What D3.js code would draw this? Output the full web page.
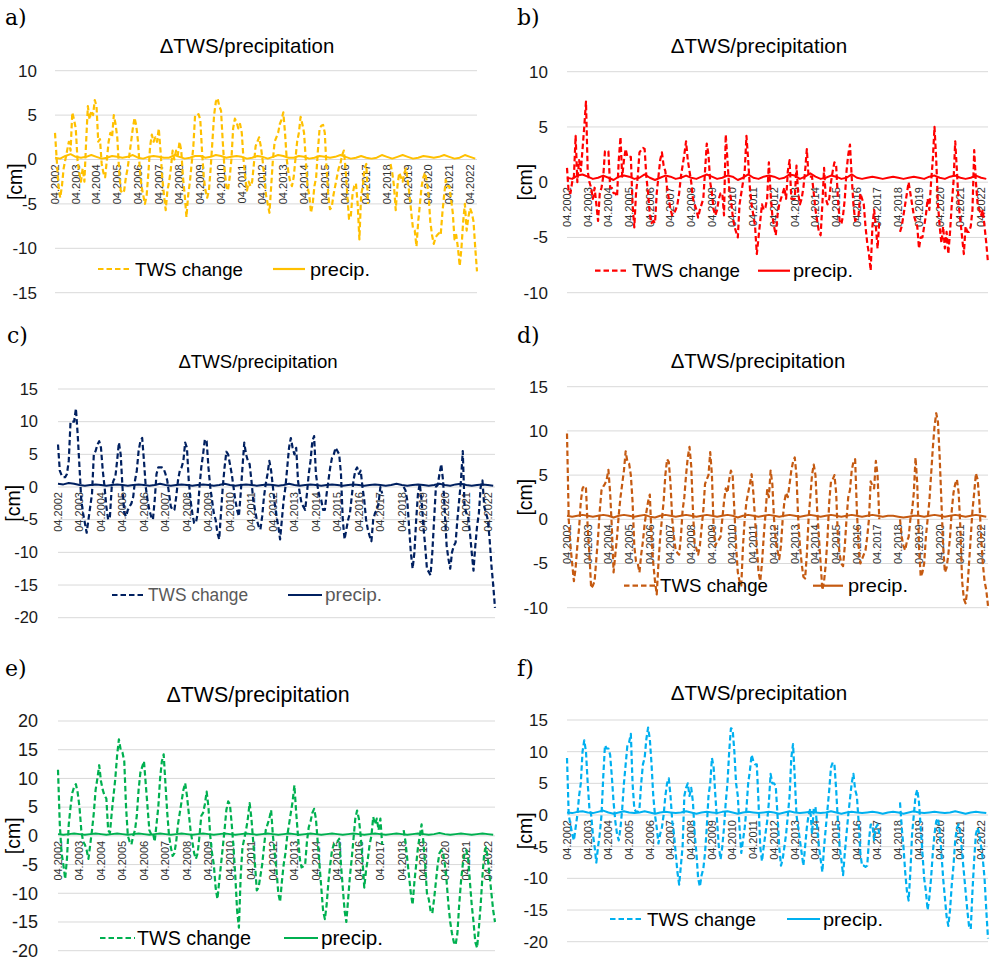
<!DOCTYPE html>
<html><head><meta charset="utf-8">
<script src="https://cdn.jsdelivr.net/npm/d3@7"></script>
<style>html,body{margin:0;padding:0;background:#fff;} svg{display:block;}</style>
</head><body>
<svg id="chart" width="990" height="961"></svg>
<script>
// x-axis tick labels (every 12 months, starting 04.2002)
const yearLabels = ["04.2002","04.2003","04.2004","04.2005","04.2006","04.2007","04.2008","04.2009","04.2010","04.2011","04.2012","04.2013","04.2014","04.2015","04.2016","04.2017","04.2018","04.2019","04.2020","04.2021","04.2022"];
const seriesNames = ["TWS change", "precip."];

// Monthly TWS change [cm], 04.2002 .. 08.2022 (rows = April..March); null = no data
const twsA = [
 3,0,-3,-4.3,-3,-1,0,1,2,1,5.3,4.5,
 3.5,0,-1.5,-2.5,-1,-2.5,2,6,4.5,5.5,5,6.7,
 6,2,2.3,-0.5,-1.5,-2,0,2,3,2.5,5,4,
 2.5,-1,-3.5,-3.8,-3.5,-2,-1,0.5,2,3.5,4.7,3.8,
 2,-1,-3,-4,-5,-4,-1.5,1.5,2.8,2,2.5,2,
 3.5,1,-2,-4,-5.7,-3.5,-2.5,-1,1,0,1,0.5,
 2,1,-2,-4,-6.5,-4,-2.5,-0.5,1.5,5,5,5.1,
 4.5,1,-2,-3.5,-4.3,-3.5,-1,2,5,6.5,6.9,6,
 5.5,2,-1,-3,-3.5,-2,0,3.5,4.6,4.2,3.5,4,
 3,0,-2,-3.5,-2.5,-3,-2.5,-0.5,1.5,2,2.5,1.5,
 0,-2,-4,-5,-6,-3,0,2,2.5,3,4,4.5,
 5.3,3,0,-1.5,-2.5,-3,-2,0,2,3,4.8,4,
 3,0,-3,-4,-6,-5,-3,-2,1,3.5,3.8,3.9,
 3,-1,-4,-5.6,-5.4,-4,-3,-2,-1,-0.5,0.5,1,
 -1,-4,-6.7,-6.5,-4,-3,-2.7,-5,-9,-4,-3,-1,
 -0.5,-5,null,null,null,null,null,null,null,null,null,null,
 null,null,-0.5,-1.5,-3,-5.7,-3,-1.5,-2,-2.5,-1.5,-1,
 -2.5,-4,-6,-7.8,-8,-9.8,-7,-5,-3,-2,-1.5,-2.5,
 -4,-7,-8.5,-9.5,-8.8,-8.5,-8.3,-8.5,-6,-4,-2.3,-3,
 -3,-4.5,-6,-9,-8.5,-10,-12,-10,-7,-5,-8,-6.5,
 -5.5,-6,-7,-10,-12.6
];
const twsB = [
 1.3,-1,-1,0,0.5,4.2,0,2,1,3,5,7.3,
 1,0,-0.5,-1.5,-0.5,-2,-3.5,-1,-0.5,0.5,2.8,2.8,
 2.8,-0.5,-0.5,-1,-1,-1.3,2,4.1,0.5,2,3,2.3,
 2.3,2.3,-2,-4.1,-1,0.5,2.7,2.9,3.1,3,0.5,-1,
 -3,-3.7,-3.5,-3.7,-1,0.5,2,2.7,1.5,1,-0.5,-1.5,
 -2.5,-3,-2.8,-2.5,-2,-1,0.5,1.5,2.5,3.7,2,1,
 0,-1.5,-2,-2.5,-3.2,-2.5,-2,-1.5,1,3.5,2.5,0,
 -1,-2.5,-3,-2.5,-1.5,-1,-1,-3,4.3,2,-0.5,-1.5,
 -3,-4,-4.5,-5,-2,-1,0,1,4.2,2,-0.5,-2,
 -3,-4,-6.5,-5,-3.5,-2,-2.5,-2.3,-1.5,1.8,-1,-3,
 -4,-4.8,-3,-2,-1.5,-1,-0.5,-1.5,1,2,-1.5,-1.5,
 -1.5,1.5,-1,-2,-1.5,-0.5,1,3,0.5,0.5,0.5,-1,
 -2.5,-3.5,-4.5,-4.8,-2,1.3,-1.5,-2,-1.5,0,1,1.8,
 1.5,-1.5,-3.5,-3.8,-3,-1.5,1,2.5,3.4,0.5,-2,-3.5,
 -3.2,-3,-1,-1.5,-2,-4,-5.5,-6.5,-8,-4,-2.5,-4,
 -6,-3.5,null,null,null,null,null,null,null,null,null,null,
 null,-4.5,-4,-3,-2,-1,0,-1,-2,-3,-3.5,-4,
 -6,-5,-5,-4,-3,-1.5,-2.5,0,2,5,2,-2,
 -4,-5.5,-4,-6,-4.5,-6.5,-4.5,-2,0,3.7,1,-2,
 -3.5,-5,-6.5,-4,-4.5,-4.5,-4,-2.5,2.9,0,-2,-2.5,
 -3,-2.5,-4,-5.5,-7.3
];
const twsC = [
 6.5,2.5,1.8,1.5,1.5,2,4,10,10,10,12,8,
 3,-2,-4,-5.5,-7,-5,-3,-1,5,5.5,6.5,7,
 6,2.5,0,-3,-5,-4.5,0,1,1.5,4,6.8,5,
 0,-4,-4.5,-3.5,-3,-2.5,-1.5,1,2.5,5.5,7,7.5,
 4,0,-2,-3.5,-4.5,-5,-2,2,3,3,3,2.8,
 2,1,-1,-3,-3.5,-3.5,-1.5,1,2.5,3,4,6.8,
 6,1,-2,-4,-5.5,-5.5,-4,0,3,5,7.3,7,
 3,0,-2,-4,-5,-7,-8,-4,0,3,5.4,5,
 3.5,2,0,-2,-3.5,-4.5,-1,3,6.8,5,4,3.5,
 1,-2,-3.5,-5,-6,-6.5,-4.5,-1.5,0.5,2,4,2.5,
 0,-2.5,-4.5,-6,-8,-5,-2,0,3,6,7.5,6,
 5,6,1,-1,-2.5,-3,-3.5,-1,2,4,7,7.8,
 2,0,-1.5,-2,-3.5,-3.5,-1,1,3,4.5,5,6,
 5.5,5,2,-5,-8,-6.5,-5,-4,-1.5,1,2.5,3,
 2,2.5,0,-2,-5,-6.5,-7.5,-8.3,-5,-4,-3.5,-2.5,
 0,-1,null,null,null,null,null,null,null,null,null,null,
 null,0,-0.5,-2,-6,-10,-12.5,-10,-5,-1,0.5,-2,
 -6,-9,-12.5,-13,-13.5,-10,-5,0,0.3,2,3.5,1,
 -4,-9,-11,-12.5,-10,-9,-8.5,-5,-2,1,5.5,-3,
 -4,-4.5,-7,-10,-12.8,-9,-6,-4,0,1,-3,-4,
 -5,-8,-12,-15,-18.5
];
const twsD = [
 9.7,0,-3,-5,-7,-5.5,-3,-1,2,3.5,3.8,3.5,
 -1,-4,-7.8,-7.5,-7,-4.5,-2,1,3.3,3.7,4,4.5,
 5.6,3,-1,-6,-4,-2,0.5,2.5,4,5.5,7.7,6.5,
 6.3,5,2,-3,-4.8,-5,-6,-4,-2.5,-0.5,0.8,2,
 2.8,-2,-5,-7,-8.5,-5,-2,0,2,5,6.8,6.5,
 4,0,-2,-3.5,-3.8,-4,-2,1,2.5,5,7,8.2,
 6,1,-3,-3.3,-4,-3,-1,1,4,4.5,5,7.6,
 5,-1,-3,-2.5,-2.3,-2,0,2,3.5,3,4.5,5.5,
 5,1,-3,-6,-7,-7.5,-3,0,2,3,4,5.1,
 3,0,-3,-6,-7,-5,-2,0.5,3.3,2.5,5.5,4,
 0,-2.5,-3.5,-4.5,-3,0,2,3,2.5,4,5.5,6.5,
 7,5,0,-3,-5,-6.5,-6.7,-4,0,2.5,5,6.2,
 5,1,-2,-5,-8,-7,-5,-2,2,4.3,4.5,5,
 3,-2,-4,-5,-5.3,-3,0,2.5,3.3,5.5,6.5,6.8,
 1,-3,-5,-4.5,-4,-3.5,-2,0,4.3,3.8,3.5,6.6,
 5,0,null,null,null,null,null,null,null,null,null,null,
 null,0,-2,-3,-3.5,-2.5,-2,0,1,3,7,4,
 -3,-6.5,-6,-5,-2,0,2,5,8,10.5,12,11,
 7,2,-3,-6,-5.5,-4,-2,1,3,4,4.5,3,
 -1,-7,-9,-9.5,-8,-5,-2,1,3,5.2,4.5,2,
 -2,-5,-7,-8,-9.8
];
const twsE = [
 11.5,2,-3,-5,-7.5,-4,2,5,7.5,8.5,9,7.5,
 5,1,-1,-1.5,-2.5,-4,-1.5,1,4,8,10,12.3,
 9.5,8,7,6.5,1,0.5,4,7,10,14,16.8,15,
 14.5,13,5,0,-1,-1.5,0,1,3.5,8,11,12,
 13,9,5,1,0.3,0.5,-1,2,5,10,13,14.2,
 9,4,0,-2,-3.5,-3,-1,2,4,6,8,9.2,
 7,4,1,-1,-3,-4,-3,0,3.5,4,5.5,7.7,
 5,0,-3,-5,-9,-11,-8,-5,-2,1,4.5,6,
 5.5,2,-2,-7,-13,-16,-7,-2,-0.5,1,3,5.7,
 3,-1,-5,-9.5,-9,-7,-5,-2,1,2,3,4.5,
 0,-3,-6,-10,-11.5,-8,-5,-3,0,2,4,6,
 8.8,4,0,-4,-5.5,-5.3,-5,-1,1.5,2.5,4,4.7,
 3,-1,-5,-9,-13,-14.5,-12,-8,-5,-2.5,-1.5,-1,
 -1,-0.5,-5,-9,-13,-15,-11,-7,-4,-0.5,3,4.4,
 3,0,-4,-9,-6,-4,-1.5,0,3.3,2,3,1,
 3,-1.5,null,null,null,null,null,null,null,null,null,null,
 null,1,-1,-4,-7,-10,-12,-8,-5,-2,0,2,
 -1,-5,-10,-11,-13,-13.5,-11,-8,-5,-3,-2.5,-3,
 -5,-8,-12,-15,-17,-18.5,-19,-17,-12,-8,-5,-3,
 -2.5,-4,-8,-12,-15,-18.5,-19.5,-16,-12,-7,-3,-2,
 -4,-7,-10,-13,-15
];
const twsF = [
 9,0,-1.5,-3,-4,-2,0,3,5,10,11.8,10,
 5,1,0,-3,-5,-7.5,-5,-3,0,6,11,10.5,
 10.5,9.5,6,2,-1,-3,-4,-2,1,5,8,11,
 11.5,12.8,5,1,0.5,0.5,1,5,8,9,12,13.8,
 12,8,3,0,-2,-4.5,-3,-2,0,3,5,5.8,
 3,-1,-3,-6,-9,-11,-8,-5,3,4.3,5,3,
 4.3,2,-3,-6,-10,-11.3,-9.5,-8.5,-6,-2,3,5,
 9,7.5,3,-1,-5,-7,-5,-2,2,5,10,13.7,
 13.5,10,5,3,-2,-6,-4,-2,1,5,7,9.5,
 8.5,8,8,2,-5,-7.3,-5,-3,-1,2,6.5,5,
 5,4.5,0,-5,-8,-7,-5,-3,0,3,9,11.2,
 6,0,-2,-4,-6,-8,-5,-2,0,1,-3,1,
 1.3,-2,-5,-7,-9,-5,-2,1,4,7.5,8.3,8,
 4,-1,-5,-7,-9.5,-6,-3,0,2.5,5,6.5,4,
 3,-1,-6,-8,-8,-8.2,-8,-4,-1.5,-1.5,-4,-2,
 -1.5,-3,null,null,null,null,null,null,null,null,null,null,
 null,2,-2,-5,-9,-12,-13.5,-9,-3,0,3,4,
 2,-2,-6,-10,-12,-15,-13,-10,-6,-3,-1,-0.5,
 -2.5,-6,-10,-13,-16,-17.5,-15,-11,-8,-4,-2,-1.5,
 -3,-6,-9,-12,-15,-17.5,-18,-12,-7,-3,-2,-3,
 -5,-7,-10,-15,-19.5
];

// Precipitation [cm], every 3rd month from 04.2002 (Apr, Jul, Oct, Jan per row)
const precA = [
 0.2,0.1,0.4,0.6, 0.3,0.2,0.3,0.5, 0.3,0.1,0.2,0.4, 0.3,0.2,0.3,0.5, 0.2,0.1,0.3,0.4,
 0.3,0.2,0.2,0.5, 0.3,0.1,0.2,0.4, 0.4,0.2,0.3,0.5, 0.4,0.2,0.3,0.4, 0.3,0.1,0.2,0.4,
 0.3,0.1,0.3,0.5, 0.4,0.2,0.2,0.4, 0.3,0.1,0.2,0.4, 0.3,0.2,0.3,0.5, 0.3,0.1,0.2,0.4,
 0.2,0.1,0.2,0.5, 0.3,0.1,0.3,0.5, 0.3,0.1,0.2,0.4, 0.3,0.2,0.3,0.5, 0.3,0.1,0.2,0.5,
 0.3,0.1
];
const precB = [
 0.4,0.3,0.6,0.7, 0.5,0.3,0.4,0.6, 0.4,0.2,0.5,0.6, 0.5,0.3,0.4,0.7, 0.4,0.2,0.4,0.6,
 0.5,0.3,0.4,0.6, 0.4,0.3,0.5,0.7, 0.5,0.3,0.4,0.6, 0.5,0.2,0.4,0.7, 0.4,0.3,0.5,0.6,
 0.5,0.3,0.4,0.7, 0.6,0.3,0.5,0.8, 0.5,0.3,0.4,0.6, 0.5,0.3,0.4,0.7, 0.4,0.3,0.4,0.5,
 0.4,0.3,0.4,0.5, 0.4,0.3,0.4,0.5, 0.4,0.3,0.5,0.6, 0.4,0.3,0.5,0.6, 0.4,0.3,0.4,0.6,
 0.4,0.3
];
const precC = [
 0.5,0.4,0.6,0.5, 0.3,0.2,0.3,0.4, 0.3,0.2,0.3,0.4, 0.3,0.2,0.3,0.4, 0.3,0.2,0.3,0.5,
 0.3,0.2,0.3,0.4, 0.3,0.2,0.3,0.4, 0.3,0.2,0.3,0.5, 0.3,0.2,0.3,0.4, 0.3,0.2,0.3,0.4,
 0.3,0.2,0.3,0.5, 0.3,0.2,0.3,0.4, 0.3,0.2,0.3,0.4, 0.3,0.2,0.3,0.4, 0.3,0.2,0.3,0.4,
 0.3,0.2,0.3,0.5, 0.3,0.2,0.3,0.4, 0.3,0.2,0.3,0.5, 0.3,0.2,0.4,0.5, 0.3,0.2,0.3,0.4,
 0.3,0.2
];
const precD = [
 0.4,0.3,0.4,0.5, 0.4,0.3,0.4,0.5, 0.4,0.2,0.4,0.5, 0.4,0.3,0.4,0.5, 0.3,0.2,0.4,0.5,
 0.4,0.3,0.4,0.5, 0.4,0.3,0.4,0.5, 0.4,0.3,0.4,0.5, 0.4,0.2,0.4,0.5, 0.4,0.3,0.4,0.5,
 0.4,0.3,0.4,0.5, 0.4,0.3,0.4,0.5, 0.4,0.3,0.4,0.5, 0.4,0.3,0.4,0.5, 0.4,0.3,0.4,0.5,
 0.4,0.3,0.4,0.4, 0.3,0.2,0.3,0.4, 0.4,0.3,0.4,0.5, 0.4,0.3,0.4,0.5, 0.4,0.3,0.4,0.5,
 0.4,0.3
];
const precE = [
 0.3,0.2,0.3,0.4, 0.3,0.2,0.3,0.4, 0.3,0.2,0.3,0.4, 0.3,0.2,0.3,0.4, 0.3,0.2,0.3,0.4,
 0.3,0.2,0.3,0.4, 0.3,0.2,0.3,0.4, 0.3,0.2,0.3,0.4, 0.3,0.2,0.3,0.4, 0.3,0.2,0.3,0.4,
 0.3,0.2,0.3,0.4, 0.3,0.2,0.3,0.4, 0.3,0.2,0.3,0.4, 0.3,0.2,0.3,0.4, 0.3,0.2,0.3,0.4,
 0.3,0.2,0.3,0.4, 0.3,0.2,0.3,0.4, 0.3,0.2,0.3,0.5, 0.3,0.2,0.3,0.4, 0.3,0.2,0.3,0.4,
 0.3,0.2
];
const precF = [
 0.4,0.3,0.5,0.6, 0.4,0.3,0.5,0.7, 0.4,0.2,0.4,0.6, 0.4,0.3,0.4,0.6, 0.4,0.2,0.4,0.5,
 0.4,0.3,0.4,0.6, 0.4,0.2,0.4,0.5, 0.4,0.3,0.5,0.6, 0.4,0.2,0.4,0.5, 0.4,0.3,0.4,0.5,
 0.4,0.2,0.4,0.6, 0.4,0.3,0.4,0.5, 0.4,0.3,0.4,0.6, 0.4,0.2,0.4,0.5, 0.4,0.3,0.4,0.5,
 0.4,0.2,0.4,0.5, 0.4,0.2,0.4,0.6, 0.4,0.3,0.4,0.5, 0.4,0.3,0.4,0.6, 0.4,0.2,0.4,0.5,
 0.4,0.3
];

// Layout of each panel (positions/styles, not data)
const panels = [
 {letter:"a)", lx:5,   ly:25,  color:"#FFC000", tws:twsA, prec:precA, yMin:-15, yMax:10, left:55,  right:477, top:70.7,  bottom:292.7, tickX:37,  tickFont:17, cmX:15,  titleX:247,   titleY:53,  titleFont:20.4, lgY:269,   lg:[98,132,135,108,273,305,310,60],  lgFont:19,   lgColor:"#000"},
 {letter:"b)", lx:517, ly:25,  color:"#FF0000", tws:twsB, prec:precB, yMin:-10, yMax:10, left:567, right:988, top:71.7,  bottom:292.7, tickX:548, tickFont:17, cmX:525, titleX:759,   titleY:53,  titleFont:20.6, lgY:270.7, lg:[595,628,632,108,758,790,793,60], lgFont:19,   lgColor:"#000"},
 {letter:"c)", lx:7,   ly:343, color:"#002060", tws:twsC, prec:precC, yMin:-20, yMax:15, left:58,  right:495, top:389,   bottom:617.7, tickX:38,  tickFont:16.5, cmX:13, titleX:258,   titleY:368, titleFont:18.6, lgY:595,   lg:[112,145,148,100,288,322,325,57], lgFont:17.5, lgColor:"#595959"},
 {letter:"d)", lx:517, ly:343, color:"#C55A11", tws:twsD, prec:precD, yMin:-10, yMax:15, left:567, right:988, top:386.7, bottom:607.7, tickX:548, tickFont:17, cmX:525, titleX:758,   titleY:368, titleFont:20.4, lgY:585.7, lg:[624,658,660,108,813,843,848,60], lgFont:19,   lgColor:"#000"},
 {letter:"e)", lx:5,   ly:676, color:"#00B050", tws:twsE, prec:precE, yMin:-20, yMax:20, left:58,  right:495, top:721,   bottom:950.7, tickX:38,  tickFont:18, cmX:13,  titleX:258,   titleY:702, titleFont:21.4, lgY:938,   lg:[100,135,137,114,284,318,321,62], lgFont:20,   lgColor:"#000"},
 {letter:"f)", lx:517, ly:676, color:"#00B0F0", tws:twsF, prec:precF, yMin:-20, yMax:15, left:567, right:988, top:720,   bottom:941.7, tickX:548, tickFont:17, cmX:525, titleX:759,   titleY:700, titleFont:20.6, lgY:919,   lg:[610,643,647,109,787,820,823,60], lgFont:19,   lgColor:"#000"}
];

const SANS = "'Liberation Sans', Arial, sans-serif";
const svg = d3.select("#chart");
svg.append("rect").attr("width", 990).attr("height", 961).attr("fill", "#fff");

panels.forEach(p => {
  const g = svg.append("g");
  const nMonths = p.tws.length;
  const x = d3.scaleLinear().domain([0, nMonths - 1]).range([p.left, p.right]);
  const y = d3.scaleLinear().domain([p.yMin, p.yMax]).range([p.bottom, p.top]);
  const ticks = d3.range(p.yMin, p.yMax + 1, 5);

  // panel letter
  g.append("text").attr("x", p.lx).attr("y", p.ly).text(p.letter)
    .attr("font-family", "'DejaVu Serif', serif").attr("font-size", 22).attr("fill", "#000");
  // title
  g.append("text").attr("x", p.titleX).attr("y", p.titleY).attr("text-anchor", "middle")
    .attr("font-family", SANS).attr("font-size", p.titleFont).attr("fill", "#000")
    .text("ΔTWS/precipitation");

  // gridlines
  g.append("g").selectAll("line").data(ticks).join("line")
    .attr("x1", p.left).attr("x2", p.right)
    .attr("y1", d => y(d)).attr("y2", d => y(d))
    .attr("stroke", "#D9D9D9").attr("stroke-width", 1);

  // y axis labels
  const ax = d3.axisLeft(y).tickValues(ticks).tickSize(0).tickPadding(0).tickFormat(d => String(d));
  const ag = g.append("g").attr("transform", `translate(${p.tickX},0)`).call(ax);
  ag.select(".domain").remove();
  ag.selectAll("text").attr("font-family", SANS).attr("font-size", p.tickFont).attr("fill", "#1a1a1a");

  // y axis title
  g.append("text")
    .attr("transform", `translate(${p.cmX},${(p.top + p.bottom) / 2}) rotate(-90)`)
    .attr("text-anchor", "middle").attr("dy", "0.35em")
    .attr("font-family", SANS).attr("font-size", 19.5).attr("fill", "#000")
    .text("[cm]");

  // x axis labels (rotated)
  const xl = yearLabels.map((lab, k) => ({lab, i: 12 * k}));
  g.append("g").selectAll("text").data(xl).join("text")
    .attr("transform", d => `translate(${x(d.i)},${y(0) + 5}) rotate(-90)`)
    .attr("text-anchor", "end").attr("dy", "0.35em")
    .attr("font-family", SANS).attr("font-size", 11).attr("fill", "#333")
    .text(d => d.lab);

  // TWS change dashed line
  const twsData = p.tws.map((v, i) => ({i, v}));
  const line = d3.line().defined(d => d.v !== null).x(d => x(d.i)).y(d => y(d.v));
  g.append("path").datum(twsData).attr("d", line)
    .attr("fill", "none").attr("stroke", p.color).attr("stroke-width", 2.2)
    .attr("stroke-dasharray", "5.5,3").attr("stroke-linejoin", "round");

  // precipitation solid line
  const precData = p.prec.map((v, k) => ({i: 3 * k, v}));
  g.append("path").datum(precData).attr("d", line)
    .attr("fill", "none").attr("stroke", p.color).attr("stroke-width", 2)
    .attr("stroke-linejoin", "round");

  // legend
  const [d1, d2, t1, w1, s1, s2, t2, w2] = p.lg;
  g.append("line").attr("x1", d1).attr("x2", d2).attr("y1", p.lgY).attr("y2", p.lgY)
    .attr("stroke", p.color).attr("stroke-width", 2.2).attr("stroke-dasharray", "5.5,3");
  g.append("text").attr("x", t1).attr("y", p.lgY).attr("dy", "0.35em")
    .attr("font-family", SANS).attr("font-size", p.lgFont).attr("fill", p.lgColor)
    .attr("textLength", w1).attr("lengthAdjust", "spacingAndGlyphs")
    .text(seriesNames[0]);
  g.append("line").attr("x1", s1).attr("x2", s2).attr("y1", p.lgY).attr("y2", p.lgY)
    .attr("stroke", p.color).attr("stroke-width", 2.2);
  g.append("text").attr("x", t2).attr("y", p.lgY).attr("dy", "0.35em")
    .attr("font-family", SANS).attr("font-size", p.lgFont).attr("fill", p.lgColor)
    .attr("textLength", w2).attr("lengthAdjust", "spacingAndGlyphs")
    .text(seriesNames[1]);
});
</script>
</body></html>
